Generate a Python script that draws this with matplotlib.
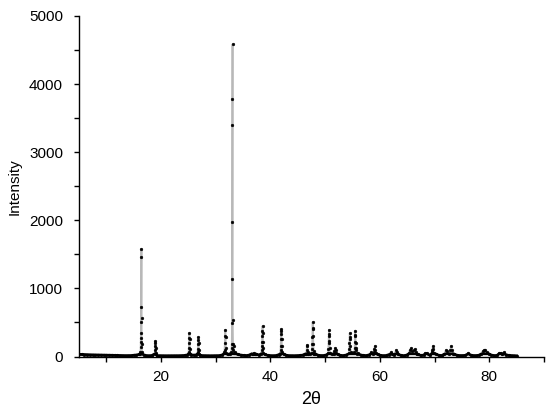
import numpy as np
import matplotlib
matplotlib.use("Agg")
import matplotlib.pyplot as plt
from matplotlib.ticker import MultipleLocator

plt.rcParams['font.family'] = ['Liberation Sans', 'DejaVu Sans']

# Background scan points (2theta, counts)
bg_2theta = [5.0, 5.5, 6.0, 6.5, 7.0, 7.5, 8.0, 8.5, 9.0, 9.5, 10.0, 10.5, 11.0, 11.5, 12.0,
             12.5, 13.0, 13.5, 14.0, 14.5, 15.0, 15.5, 16.0, 16.8, 17.3, 17.8, 18.3, 19.3,
             19.8, 20.3, 20.8, 21.3, 21.8, 22.3, 22.8, 23.3, 23.8, 24.3, 24.8, 25.5, 26.0,
             26.4, 27.1, 27.6, 28.1, 28.6, 29.1, 29.6, 30.1, 30.6, 31.1, 32.2, 32.6, 33.6,
             34.1, 34.6, 35.1, 35.6, 36.1, 36.6, 37.4, 37.9, 39.0, 39.5, 40.0, 40.5, 41.0,
             41.5, 42.4, 42.9, 43.4, 43.9, 44.4, 44.9, 45.4, 45.9, 46.3, 47.2, 48.2, 48.7,
             49.2, 49.7, 50.2, 51.2, 52.3, 52.8, 53.3, 53.8, 56.0, 56.5, 57.0, 57.5, 58.0,
             59.6, 60.1, 60.6, 61.1, 61.6, 62.5, 63.4, 63.9, 64.4, 64.9, 67.0, 67.5, 68.0,
             68.3, 69.1, 70.3, 70.8, 71.3, 71.7, 72.6, 73.6, 74.1, 74.6, 75.1, 75.6, 76.6,
             77.1, 77.6, 78.1, 78.5, 79.9, 80.4, 80.9, 81.4, 82.4, 83.1, 83.6, 84.1, 84.6,
             85.0]
bg_counts = [32, 30, 28, 26, 25, 24, 22, 21, 20, 19, 18, 17, 16, 15, 15,
             14, 14, 13, 13, 14, 18, 22, 30, 25, 14, 12, 14, 13,
             12, 12, 11, 11, 11, 12, 12, 12, 13, 15, 22, 24, 20,
             22, 18, 13, 12, 12, 11, 12, 12, 13, 20, 30, 40, 60,
             30, 20, 16, 14, 20, 40, 35, 22, 30, 16, 13, 12, 14,
             25, 35, 18, 13, 12, 12, 13, 15, 20, 35, 40, 40, 18,
             14, 14, 22, 35, 30, 15, 14, 20, 45, 22, 15, 14, 22,
             30, 16, 13, 14, 25, 25, 30, 15, 13, 20, 30, 15, 20,
             45, 20, 35, 16, 14, 30, 40, 35, 18, 14, 14, 16, 20,
             14, 14, 18, 35, 40, 20, 14, 15, 30, 25, 15, 14, 12,
             10]

# Peak scan points (2theta, counts)
peak_2theta = [16.20, 16.24, 16.28, 16.30, 16.32, 16.34, 16.36, 16.38, 16.40, 16.42, 16.44, 16.47, 16.52,
               18.86, 18.90, 18.94, 18.96, 18.98, 19.02, 19.07,
               25.05, 25.09, 25.13, 25.15, 25.17, 25.21, 25.25, 25.31,
               26.70, 26.74, 26.78, 26.80, 26.82, 26.86, 26.90, 26.96,
               31.55, 31.62, 31.68, 31.72, 31.75, 31.79, 31.84, 31.92,
               32.85, 32.90, 32.94, 32.97, 32.99, 33.01, 33.03, 33.05, 33.07, 33.10, 33.15, 33.22, 33.30, 33.40,
               36.90, 37.00, 37.10,
               38.35, 38.40, 38.44, 38.47, 38.50, 38.53, 38.55, 38.58, 38.62, 38.66, 38.72,
               41.80, 41.85, 41.89, 41.92, 41.95, 41.97, 42.00, 42.04, 42.08, 42.14,
               46.55, 46.62, 46.68, 46.74, 46.80, 46.88,
               47.55, 47.60, 47.64, 47.67, 47.70, 47.72, 47.75, 47.79, 47.83, 47.88, 47.96,
               50.55, 50.60, 50.64, 50.67, 50.70, 50.73, 50.77, 50.82, 50.90,
               51.60, 51.70, 51.80, 51.90, 52.00,
               54.35, 54.40, 54.44, 54.47, 54.50, 54.53, 54.58, 54.66,
               55.35, 55.40, 55.44, 55.47, 55.50, 55.53, 55.57, 55.62, 55.72, 55.85,
               58.40, 58.70, 58.90, 59.00, 59.10, 59.20, 59.35,
               62.10, 62.20, 63.00, 63.10,
               65.30, 65.50, 65.70, 65.90, 66.20, 66.40, 66.60, 66.80,
               68.60, 69.50, 69.60, 69.70, 69.80, 69.95,
               72.10, 72.30, 72.90, 73.00, 73.20, 73.40,
               76.20, 78.80, 79.00, 79.30, 79.50,
               81.80, 82.20, 82.70]
peak_counts = [40, 70, 135, 218, 268, 350, 512, 732, 1468, 1580, 560, 180, 60,
               40, 95, 160, 228, 200, 120, 50,
               70, 120, 194, 268, 340, 250, 110, 40,
               60, 110, 180, 240, 282, 200, 90, 35,
               60, 90, 200, 300, 390, 280, 120, 50,
               60, 120, 184, 488, 1135, 1968, 3394, 3787, 4585, 537, 184, 90, 150, 50,
               30, 55, 30,
               40, 90, 150, 220, 300, 380, 448, 340, 220, 120, 50,
               40, 90, 160, 250, 330, 400, 370, 260, 150, 60,
               40, 90, 170, 150, 70, 30,
               50, 110, 190, 290, 400, 507, 420, 300, 180, 80, 30,
               50, 110, 200, 300, 390, 330, 230, 120, 50,
               40, 80, 120, 100, 50,
               50, 110, 200, 280, 340, 260, 150, 70,
               60, 120, 220, 300, 380, 310, 200, 120, 90, 40,
               60, 40, 70, 110, 155, 100, 50,
               70, 40, 90, 60,
               50, 100, 120, 80, 90, 110, 70, 30,
               50, 60, 100, 155, 110, 50,
               95, 80, 100, 155, 90, 40,
               56, 80, 95, 100, 60,
               55, 50, 60]

x = np.concatenate([np.array(bg_2theta), np.array(peak_2theta)])
y = np.concatenate([np.array(bg_counts), np.array(peak_counts)])
order = np.argsort(x)
x, y = x[order], y[order]

fig = plt.figure(figsize=(5.5, 4.12), dpi=100)
ax = fig.add_axes([0.1436, 0.1347, 0.8454, 0.8265])

ax.plot(x, y, color='#b8b8b8', lw=1.3, zorder=2)
ax.plot(x, y, linestyle='none', marker='o', ms=2.0, color='black', mec='black', mew=0.3, zorder=3)
ax.plot(x, np.minimum(y, 40), color='black', lw=2.0, zorder=3)

ax.set_xlim(5, 90)
ax.set_ylim(0, 5000)
ax.xaxis.set_major_locator(MultipleLocator(20))
ax.xaxis.set_minor_locator(MultipleLocator(10))
ax.yaxis.set_major_locator(MultipleLocator(1000))
ax.yaxis.set_minor_locator(MultipleLocator(500))
ax.tick_params(which='both', direction='out', length=3.5, width=1, labelsize=11, colors='black')
ax.tick_params(axis='x', which='both', pad=6.5)
ax.tick_params(axis='y', which='both', pad=8)
for s in ['top', 'right']:
    ax.spines[s].set_visible(False)
for s in ['left', 'bottom']:
    ax.spines[s].set_linewidth(1.0)
ax.set_ylabel('Intensity', fontsize=11, labelpad=5)
ax.set_xlabel('2θ', fontsize=13, labelpad=5)

fig.savefig('out.png', dpi=100)
